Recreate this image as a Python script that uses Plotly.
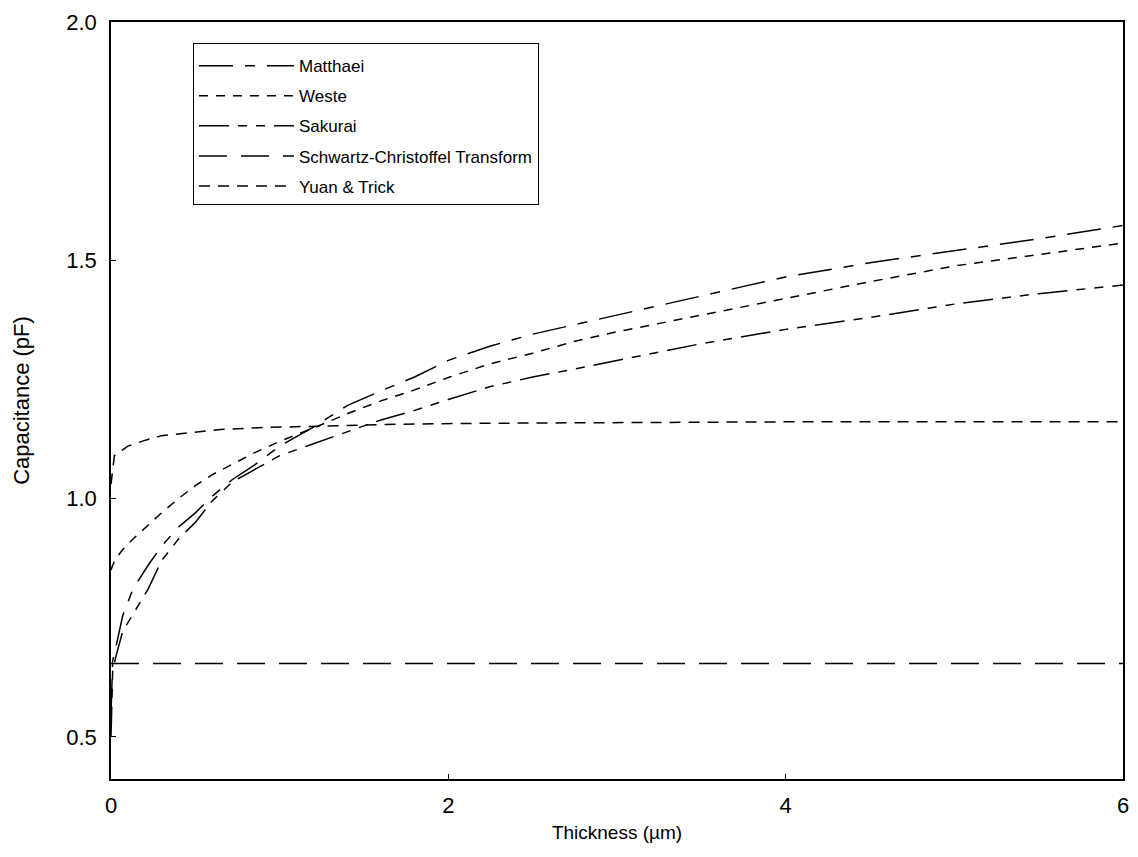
import plotly.graph_objects as go

thickness = [0, 0.01, 0.03, 0.07, 0.13, 0.22, 0.3, 0.4, 0.5, 0.6, 0.72, 0.85, 1.0, 1.2,
             1.4, 1.6, 1.8, 2.0, 2.25, 2.5, 2.75, 3.0, 3.5, 4.0, 4.5, 5.0, 5.5, 6.0]

matthaei = [0.55, 0.66, 0.69, 0.755, 0.81, 0.86, 0.90, 0.94, 0.97, 1.005, 1.04, 1.07, 1.11, 1.15,
            1.195, 1.226, 1.255, 1.29, 1.32, 1.345, 1.365, 1.385, 1.425, 1.465, 1.495, 1.52, 1.545, 1.573]
weste = [0.85, 0.86, 0.875, 0.893, 0.915, 0.945, 0.97, 1.0, 1.027, 1.05, 1.072, 1.096, 1.12, 1.148,
         1.178, 1.205, 1.228, 1.254, 1.283, 1.305, 1.33, 1.35, 1.385, 1.42, 1.455, 1.488, 1.512, 1.536]
sakurai = [0.50, 0.64, 0.67, 0.722, 0.757, 0.81, 0.87, 0.915, 0.95, 0.995, 1.035, 1.06, 1.09, 1.115,
           1.14, 1.165, 1.185, 1.208, 1.235, 1.255, 1.272, 1.29, 1.325, 1.355, 1.38, 1.408, 1.43, 1.448]

sc_x = [0, 6.0]
sc_y = [0.654, 0.654]

yuan_x = [0, 0.02, 0.1, 0.2, 0.3, 0.45, 0.65, 0.9, 1.2, 1.7, 2.2, 3.0, 4.0, 5.0, 6.0]
yuan_y = [1.03, 1.09, 1.11, 1.122, 1.132, 1.138, 1.145, 1.149, 1.152, 1.156, 1.158, 1.16, 1.161, 1.161, 1.161]

series = [
    ("Matthaei", thickness, matthaei, "34px,12px,10px,12px"),
    ("Weste", thickness, weste, "9px,8px"),
    ("Sakurai", thickness, sakurai, "30px,9px,9px,9px,9px,9px"),
    ("Schwartz-Christoffel Transform", sc_x, sc_y, "28px,14px"),
    ("Yuan & Trick", yuan_x, yuan_y, "11px,8px"),
]

fig = go.Figure()
for i, (name, xs, ys, dash) in enumerate(series):
    fig.add_trace(go.Scatter(x=xs, y=ys, mode="lines", name=name, legendgroup=str(i),
                             line=dict(color="black", width=1.5, dash=dash)))

fam = "Liberation Sans, Arial, sans-serif"
tickfont = dict(family=fam, size=22, color="black")
ytitlefont = dict(family=fam, size=22, color="black")
xtitlefont = dict(family=fam, size=19, color="black")
legfont = dict(family=fam, size=17, color="black")

# the page body has an 8px margin on every side: size the figure so nothing overflows
fig.update_layout(
    width=1122, height=841,
    margin=dict(l=103, r=7, t=14, b=70, autoexpand=False),
    paper_bgcolor="white", plot_bgcolor="white",
    font=legfont,
    showlegend=True,
    legend=dict(x=0.081, y=0.972, xanchor="left", yanchor="top",
                bgcolor="white", bordercolor="black", borderwidth=1,
                font=legfont, itemwidth=95, tracegroupgap=5, traceorder="grouped",
                title=dict(text=" ", font=dict(size=3))),
    xaxis=dict(range=[0, 6], tickvals=[0, 2, 4, 6], ticktext=["0", "2", "4", "6"],
               showgrid=False, zeroline=False, showline=True, linecolor="black", linewidth=1.5,
               mirror=True, ticks="inside", ticklen=5, tickcolor="black", automargin=False,
               ticklabelstandoff=6, ticklabeloverflow="allow",
               title=dict(text="Thickness (\u00b5m)", standoff=9, font=xtitlefont), tickfont=tickfont),
    yaxis=dict(range=[0.4115, 2.0], tickvals=[0.5, 1.0, 1.5, 2.0],
               ticktext=["0.5", "1.0", "1.5", "2.0"],
               showgrid=False, zeroline=False, showline=True, linecolor="black", linewidth=1.5,
               mirror=True, ticks="inside", ticklen=5, tickcolor="black", automargin=False,
               ticklabelstandoff=8, ticklabeloverflow="allow",
               title=dict(text="Capacitance (pF)", standoff=31, font=ytitlefont), tickfont=tickfont),
)

fig.write_html("out.html")
